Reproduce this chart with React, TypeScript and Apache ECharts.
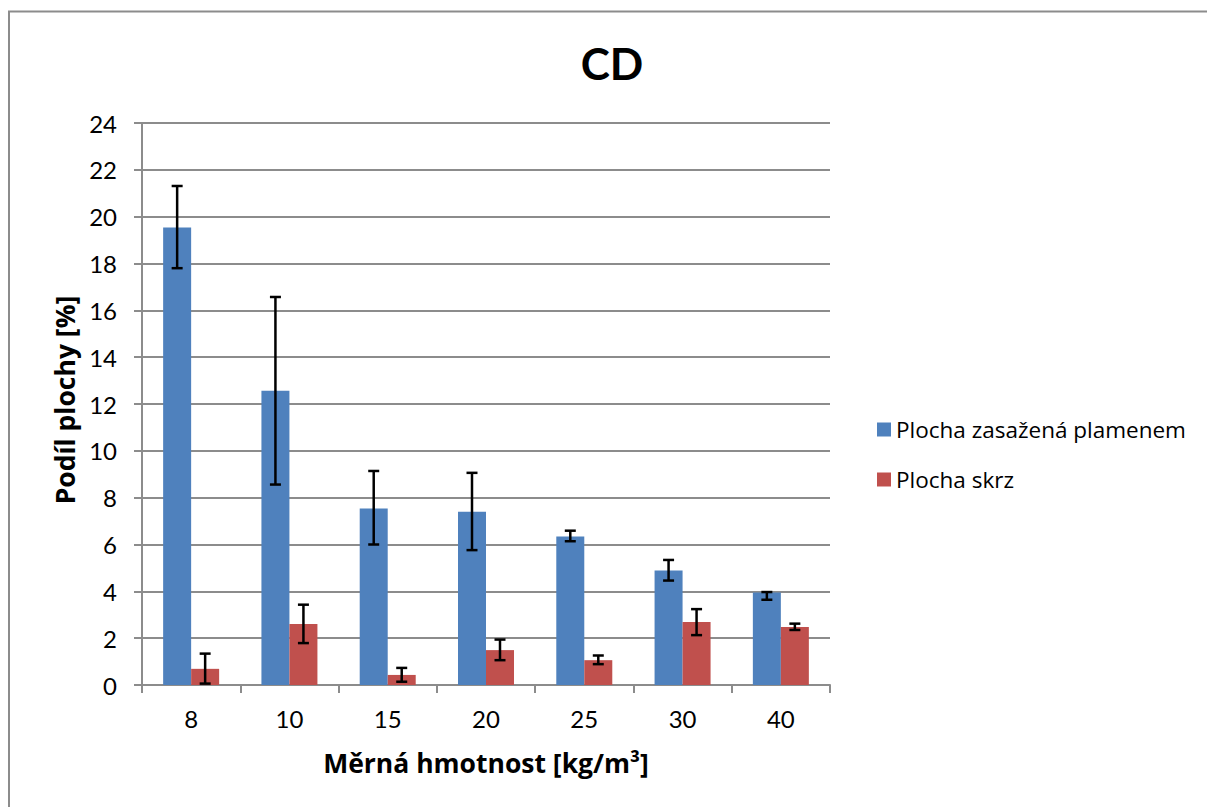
import React, { useEffect, useRef } from "react";
import * as echarts from "echarts";

const categories = ["8", "10", "15", "20", "25", "30", "40"];
const flameName = "Plocha zasažená plamenem";
const throughName = "Plocha skrz";
const flameValues = [19.54, 12.57, 7.54, 7.4, 6.34, 4.89, 3.95];
const flameErrLow = [17.8, 8.56, 6.0, 5.76, 6.14, 4.46, 3.64];
const flameErrHigh = [21.31, 16.57, 9.14, 9.06, 6.59, 5.34, 3.97];
const throughValues = [0.69, 2.6, 0.43, 1.49, 1.06, 2.69, 2.48];
const throughErrLow = [0.06, 1.79, 0.14, 1.06, 0.89, 2.13, 2.35];
const throughErrHigh = [1.34, 3.43, 0.73, 1.94, 1.26, 3.24, 2.62];

const FONT = "Lato, 'Open Sans', sans-serif";
const FONT2 = "'Open Sans', Lato, sans-serif";
const BAR_W = 28;
const GRID_COLOR = "#8c8c8c";

function errorSeries(name: string, low: number[], high: number[], offset: number) {
  return {
    type: "custom",
    name: name + " error",
    z: 10,
    silent: true,
    encode: { x: 0, y: [1, 2] },
    data: low.map((lo, i) => [i, lo, high[i]]),
    renderItem: (params: any, api: any) => {
      const i = api.value(0);
      const lo = api.coord([i, api.value(1)]);
      const hi = api.coord([i, api.value(2)]);
      const x = lo[0] + offset;
      const cap = 5.5;
      const style = { stroke: "#000", lineWidth: 2.5 };
      return {
        type: "group",
        children: [
          { type: "line", shape: { x1: x, y1: lo[1], x2: x, y2: hi[1] }, style },
          { type: "line", shape: { x1: x - cap, y1: lo[1], x2: x + cap, y2: lo[1] }, style },
          { type: "line", shape: { x1: x - cap, y1: hi[1], x2: x + cap, y2: hi[1] }, style },
        ],
      };
    },
  };
}

export default function App() {
  const ref = useRef<HTMLDivElement>(null);
  useEffect(() => {
    if (!ref.current) return;
    const chart = echarts.init(ref.current, null, { renderer: "svg" });
    chart.setOption({
      animation: false,
      backgroundColor: "#fff",
      textStyle: { fontFamily: FONT },
      grid: { left: 142, right: 377, top: 123, bottom: 122, containLabel: false },
      legend: {
        data: [flameName, throughName],
        orient: "vertical",
        left: 872,
        top: 413,
        itemWidth: 14,
        itemHeight: 14,
        itemGap: 27,
        itemTextGap: 8,
        icon: "rect",
        textStyle: { fontFamily: FONT2, fontSize: 22.5, color: "#000" },
      },
      xAxis: {
        type: "category",
        data: categories,
        boundaryGap: true,
        axisLine: { lineStyle: { color: GRID_COLOR, width: 2 } },
        axisTick: { show: true, interval: 0, length: 8, lineStyle: { color: GRID_COLOR, width: 2 } },
        axisLabel: { fontFamily: FONT, fontSize: 24, color: "#000", margin: 21, interval: 0 },
        splitLine: { show: false },
      },
      yAxis: {
        type: "value",
        min: 0,
        max: 24,
        interval: 2,
        axisLine: { show: true, lineStyle: { color: GRID_COLOR, width: 2 } },
        axisTick: { show: true, length: 8, lineStyle: { color: GRID_COLOR, width: 2 } },
        axisLabel: { fontFamily: FONT, fontSize: 24, color: "#000", margin: 25 },
        splitLine: { show: true, lineStyle: { color: GRID_COLOR, width: 2 } },
      },
      graphic: [
        {
          type: "rect",
          silent: true,
          shape: { x: 9, y: 11.5, width: 1400, height: 1000 },
          style: { fill: "none", stroke: GRID_COLOR, lineWidth: 2 },
        },
        {
          type: "text",
          x: 612,
          y: 63,
          style: {
            text: "CD",
            font: `bold 44px ${FONT}`,
            fill: "#000",
            textAlign: "center",
            textVerticalAlign: "middle",
          },
        },
        {
          type: "text",
          x: 486,
          y: 763,
          style: {
            text: "Měrná hmotnost [kg/m³]",
            font: `bold 26.5px ${FONT2}`,
            fill: "#000",
            textAlign: "center",
            textVerticalAlign: "middle",
          },
        },
        {
          type: "text",
          x: 65,
          y: 400,
          rotation: Math.PI / 2,
          style: {
            text: "Podíl plochy [%]",
            font: `bold 26.5px ${FONT2}`,
            fill: "#000",
            textAlign: "center",
            textVerticalAlign: "middle",
          },
        },
      ],
      series: [
        {
          type: "bar",
          name: flameName,
          data: flameValues,
          barWidth: BAR_W,
          barGap: "0%",
          itemStyle: { color: "#4F81BD" },
        },
        {
          type: "bar",
          name: throughName,
          data: throughValues,
          barWidth: BAR_W,
          barGap: "0%",
          itemStyle: { color: "#C0504D" },
        },
        errorSeries(flameName, flameErrLow, flameErrHigh, -BAR_W / 2),
        errorSeries(throughName, throughErrLow, throughErrHigh, BAR_W / 2),
      ],
    });
    return () => chart.dispose();
  }, []);
  return (
    <div
      ref={ref}
      style={{ position: "fixed", left: 0, top: 0, width: 1207, height: 807 }}
    />
  );
}
